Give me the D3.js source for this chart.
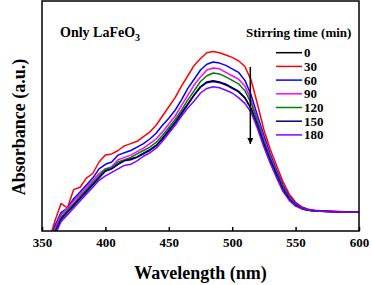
<!DOCTYPE html>
<html>
<head>
<meta charset="utf-8">
<script src="https://cdn.jsdelivr.net/npm/d3@7"></script>
<style>
  body { margin: 0; background: #fff; }
  svg { display: block; font-family: "Liberation Serif", "Times New Roman", serif; font-weight: bold; }
</style>
</head>
<body>
<svg id="chart" width="372" height="285"></svg>
<script>
// wavelength grid (nm)
const wavelengths = [355,360,365,370,375,380,385,390,395,400,
  405,410,415,420,425,430,435,440,445,450,
  455,460,465,470,475,480,485,490,495,500,
  505,510,515,520,525,530,535,540,545,550,
  555,560,565,570,575,580,585,590,595,600];

const stirTimes = ["0", "30", "60", "90", "120", "150", "180"];
const colors = ["#000000", "#ff0000", "#0000ff", "#ff00ff", "#008000", "#000080", "#8000ff"];

const abs0 = [-0.07,-0.005,0.055,0.085,0.115,0.145,0.175,0.205,0.235,0.262,
  0.272,0.292,0.307,0.314,0.322,0.338,0.354,0.372,0.403,0.438,
  0.473,0.513,0.553,0.593,0.628,0.648,0.653,0.648,0.638,0.623,
  0.608,0.58,0.532,0.46,0.38,0.31,0.246,0.184,0.139,0.112,
  0.097,0.09,0.087,0.086,0.085,0.084,0.083,0.083,0.083,0.083];
const abs30 = [-0.05,0.04,0.12,0.10,0.18,0.19,0.23,0.25,0.30,0.33,
  0.335,0.35,0.37,0.38,0.39,0.41,0.43,0.46,0.50,0.54,
  0.58,0.63,0.675,0.72,0.75,0.775,0.78,0.775,0.765,0.755,
  0.74,0.715,0.655,0.55,0.44,0.355,0.285,0.215,0.16,0.125,
  0.105,0.095,0.09,0.088,0.087,0.086,0.085,0.084,0.084,0.083];
const abs60 = [-0.06,0.02,0.08,0.10,0.14,0.17,0.20,0.23,0.27,0.29,
  0.30,0.33,0.34,0.35,0.365,0.38,0.40,0.425,0.46,0.49,
  0.525,0.57,0.62,0.66,0.70,0.725,0.735,0.73,0.72,0.705,
  0.69,0.655,0.59,0.50,0.415,0.335,0.265,0.20,0.15,0.12,
  0.102,0.093,0.089,0.087,0.086,0.085,0.084,0.084,0.083,0.083];
const abs90 = [-0.06,0.01,0.07,0.10,0.13,0.16,0.19,0.22,0.25,0.27,
  0.28,0.31,0.32,0.33,0.345,0.36,0.38,0.40,0.43,0.465,
  0.50,0.545,0.59,0.635,0.67,0.70,0.709,0.705,0.69,0.675,
  0.66,0.63,0.57,0.485,0.40,0.325,0.257,0.193,0.145,0.117,
  0.10,0.092,0.088,0.087,0.086,0.085,0.084,0.083,0.083,0.083];
const abs120 = [-0.07,0.00,0.06,0.09,0.12,0.15,0.18,0.21,0.24,0.27,
  0.275,0.30,0.31,0.32,0.335,0.35,0.365,0.385,0.415,0.45,
  0.485,0.525,0.57,0.61,0.65,0.675,0.687,0.683,0.67,0.655,
  0.64,0.61,0.555,0.475,0.39,0.318,0.252,0.19,0.142,0.115,
  0.099,0.091,0.087,0.086,0.085,0.084,0.083,0.082,0.082,0.082];
const abs150 = [-0.07,-0.01,0.05,0.08,0.11,0.14,0.17,0.20,0.23,0.26,
  0.27,0.29,0.305,0.31,0.32,0.335,0.35,0.37,0.40,0.435,
  0.47,0.51,0.55,0.59,0.625,0.645,0.65,0.645,0.635,0.62,
  0.605,0.578,0.53,0.458,0.378,0.308,0.245,0.183,0.138,0.112,
  0.097,0.09,0.087,0.086,0.085,0.084,0.083,0.083,0.083,0.083];
const abs180 = [-0.08,-0.02,0.04,0.07,0.10,0.13,0.16,0.19,0.22,0.24,
  0.255,0.27,0.285,0.29,0.305,0.325,0.34,0.36,0.39,0.425,
  0.46,0.50,0.535,0.565,0.60,0.62,0.627,0.623,0.612,0.60,
  0.58,0.555,0.515,0.445,0.365,0.295,0.232,0.172,0.133,0.108,
  0.097,0.091,0.087,0.086,0.085,0.084,0.083,0.083,0.082,0.083];

const series = [abs0, abs30, abs60, abs90, abs120, abs150, abs180];
const xTicks = [350, 400, 450, 500, 550, 600];

const svg = d3.select("#chart");
const plotL = 42, plotR = 359, plotT = 1, plotB = 231;

const x = d3.scaleLinear().domain([350, 600]).range([plotL, plotR]);
const y = d3.scaleLinear().domain([0, 1]).range([plotB, plotT]);

const defs = svg.append("defs");
defs.append("clipPath").attr("id", "clip")
  .append("rect")
  .attr("x", plotL).attr("y", plotT)
  .attr("width", plotR - plotL).attr("height", plotB - plotT);

const line = d3.line()
  .x((d, i) => x(wavelengths[i]))
  .y(d => y(d));

svg.append("g")
  .attr("clip-path", "url(#clip)")
  .selectAll("path")
  .data(series)
  .join("path")
  .attr("d", line)
  .attr("fill", "none")
  .attr("stroke", (d, i) => colors[i])
  .attr("stroke-width", 1.5)
  .attr("stroke-linejoin", "round");

// x axis, ticks pointing inward
const xAxis = svg.append("g")
  .attr("transform", `translate(0,${plotB})`)
  .call(d3.axisBottom(x).tickValues(xTicks).tickSize(-4).tickPadding(7));
xAxis.select(".domain").remove();
xAxis.selectAll(".tick line").attr("stroke", "#000").attr("stroke-width", 1.5);
xAxis.selectAll(".tick text")
  .attr("font-family", "Liberation Serif, serif")
  .attr("font-weight", "bold")
  .attr("font-size", 13)
  .attr("fill", "#000");

// frame
svg.append("rect")
  .attr("x", plotL).attr("y", plotT)
  .attr("width", plotR - plotL).attr("height", plotB - plotT)
  .attr("fill", "none").attr("stroke", "#000").attr("stroke-width", 1.5);

// axis titles
svg.append("text")
  .attr("x", (plotL + plotR) / 2).attr("y", 279)
  .attr("text-anchor", "middle").attr("font-size", 18)
  .text("Wavelength (nm)");

svg.append("text")
  .attr("transform", "translate(25,127) rotate(-90)")
  .attr("text-anchor", "middle").attr("font-size", 18)
  .text("Absorbance (a.u.)");

// sample label
const lab = svg.append("text")
  .attr("x", 60).attr("y", 37).attr("font-size", 14);
lab.append("tspan").text("Only LaFeO");
lab.append("tspan").attr("font-size", 10).attr("dy", 4).text("3");

// legend
svg.append("text")
  .attr("x", 246).attr("y", 37).attr("font-size", 13)
  .text("Stirring time (min)");

const legend = svg.append("g")
  .selectAll("g")
  .data(stirTimes)
  .join("g")
  .attr("transform", (d, i) => `translate(276,${52.7 + i * 13.7})`);
legend.append("line")
  .attr("x1", 0).attr("x2", 26)
  .attr("stroke", (d, i) => colors[i]).attr("stroke-width", 1.5);
legend.append("text")
  .attr("x", 28).attr("dy", "0.35em").attr("font-size", 13)
  .text(d => d);

// arrow showing decrease
defs.append("marker")
  .attr("id", "head")
  .attr("viewBox", "0 0 10 10")
  .attr("refX", 10).attr("refY", 5)
  .attr("markerWidth", 8).attr("markerHeight", 6)
  .attr("markerUnits", "userSpaceOnUse")
  .attr("orient", "auto")
  .append("path").attr("d", "M0,0 L10,5 L0,10 z").attr("fill", "#000");

svg.append("line")
  .attr("x1", x(514.3)).attr("x2", x(514.3))
  .attr("y1", y(0.713)).attr("y2", y(0.378))
  .attr("stroke", "#000").attr("stroke-width", 1.5)
  .attr("marker-end", "url(#head)");
</script>
</body>
</html>
